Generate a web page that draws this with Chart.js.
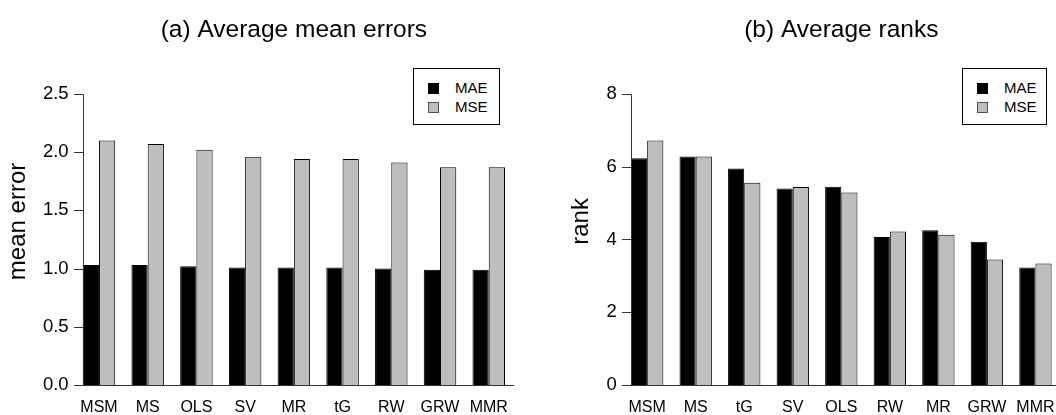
<head>
    <meta charset="UTF-8">
    <title>Average mean errors and ranks</title>
    <script src="https://cdn.jsdelivr.net/npm/chart.js@4.4.1/dist/chart.umd.min.js"></script>
    <style>
        body { margin: 0; width: 1056px; height: 415px; overflow: hidden; background: #fff; position: relative; font-family: "Liberation Sans", Arial, sans-serif; }
        .panel { position: absolute; top: 0; }
        .legend { position: absolute; top: 68px; height: 57px; border: 1px solid #000; box-sizing: border-box; background: #fff; }
        .legend div { position: absolute; font-size: 15px; line-height: 19px; }
        .legend span { position: absolute; width: 11px; height: 11px; box-sizing: border-box; border: 1px solid #000; }
    </style>
</head>
<body>
    <div class="panel" style="left:0"><canvas id="chartA" width="528" height="415"></canvas></div>
    <div class="panel" style="left:528px"><canvas id="chartB" width="540" height="415"></canvas></div>
    <div class="legend" id="legendA" style="left:413px;width:87px"></div>
    <div class="legend" id="legendB" style="left:962px;width:85px"></div>

    <script>
        // panel (a): average mean errors
        var methodsA = ['MSM', 'MS', 'OLS', 'SV', 'MR', 'tG', 'RW', 'GRW', 'MMR'];
        var maeA = [1.03, 1.03, 1.02, 1.01, 1.01, 1.01, 1.00, 0.99, 0.99];
        var mseA = [2.10, 2.07, 2.02, 1.96, 1.94, 1.94, 1.91, 1.87, 1.87];

        // panel (b): average ranks
        var methodsB = ['MSM', 'MS', 'tG', 'SV', 'OLS', 'RW', 'MR', 'GRW', 'MMR'];
        var maeB = [6.23, 6.28, 5.95, 5.40, 5.45, 4.07, 4.25, 3.94, 3.23];
        var mseB = [6.72, 6.28, 5.56, 5.44, 5.29, 4.22, 4.13, 3.45, 3.34];

        var seriesNames = ['MAE', 'MSE'];
        var seriesColors = ['#000000', '#bebebe'];
        var FONT = '"Liberation Sans", Arial, sans-serif';

        // R style y axis: line starts at the first bar, ticks point outwards,
        // axis title centred on the whole plot region (a bit above the bars)
        var rAxis = {
            id: 'rAxis',
            afterDraw: function (chart, args, opts) {
                var ctx = chart.ctx;
                var y = chart.scales.y;
                var area = chart.chartArea;
                var bar = chart.getDatasetMeta(0).data[0];
                var x = Math.round(bar.x - bar.width / 2) + 0.5;
                ctx.save();
                ctx.strokeStyle = '#333';
                ctx.lineWidth = 1;
                ctx.beginPath();
                ctx.moveTo(x, Math.round(y.getPixelForValue(y.max)) + 0.5);
                ctx.lineTo(x, Math.round(y.getPixelForValue(0)) + 0.5);
                y.ticks.forEach(function (t) {
                    var py = Math.round(y.getPixelForValue(t.value)) + 0.5;
                    ctx.moveTo(x - 9.5, py);
                    ctx.lineTo(x, py);
                });
                ctx.stroke();

                ctx.translate(opts.titleX, (area.top + area.bottom) / 2 - 18);
                ctx.rotate(-Math.PI / 2);
                ctx.fillStyle = '#000';
                ctx.font = '24px ' + FONT;
                ctx.textAlign = 'center';
                ctx.textBaseline = 'middle';
                ctx.fillText(opts.text, 0, 0);
                ctx.restore();
            }
        };

        function makeChart(id, title, labels, mae, mse, yTitle, yMax, step, decimals, yWidth, yTitleX, padRight) {
            return new Chart(document.getElementById(id), {
                type: 'bar',
                data: {
                    labels: labels,
                    datasets: [mae, mse].map(function (d, i) {
                        return {
                            label: seriesNames[i],
                            data: d,
                            backgroundColor: seriesColors[i],
                            borderColor: '#000',
                            borderWidth: 1,
                            categoryPercentage: 2 / 3,
                            barPercentage: 1
                        };
                    })
                },
                options: {
                    responsive: false,
                    animation: false,
                    layout: { padding: { left: 0, right: padRight, top: 0, bottom: 0 } },
                    plugins: {
                        legend: { display: false },
                        tooltip: { enabled: false },
                        title: {
                            display: true,
                            text: title,
                            fullSize: false,
                            color: '#000',
                            font: { family: FONT, size: 24.5, weight: 'normal' },
                            padding: { top: 16, bottom: 48.5 }
                        },
                        rAxis: { text: yTitle, titleX: yTitleX }
                    },
                    scales: {
                        x: {
                            offset: true,
                            grid: { display: false, drawTicks: false },
                            border: { display: true, color: '#333', width: 1 },
                            ticks: { color: '#000', padding: 13, font: { family: FONT, size: 16 }, autoSkip: false, maxRotation: 0 },
                            afterFit: function (s) { s.height = 30; }
                        },
                        y: {
                            min: 0,
                            max: yMax,
                            grid: { display: false, drawTicks: false },
                            border: { display: false },
                            ticks: {
                                stepSize: step,
                                color: '#000',
                                padding: 6,
                                font: { family: FONT, size: 18.5 },
                                callback: function (v) { return v.toFixed(decimals); }
                            },
                            afterFit: function (s) { s.width = yWidth; }
                        }
                    }
                },
                plugins: [rAxis]
            });
        }

        makeChart('chartA', '(a) Average mean errors', methodsA, maeA, mseA, 'mean error', 2.5, 0.5, 1, 74.6, 18.5, 14.9);
        makeChart('chartB', '(b) Average ranks', methodsB, maeB, mseB, 'rank', 8, 2, 0, 94.9, 53.5, 8);

        // boxed legends, built from the series names and colours
        ['legendA', 'legendB'].forEach(function (id) {
            var box = document.getElementById(id);
            seriesNames.forEach(function (name, i) {
                var sq = document.createElement('span');
                sq.style.left = '14px';
                sq.style.top = (14 + i * 19) + 'px';
                sq.style.background = seriesColors[i];
                sq.style.borderColor = i === 0 ? '#000' : '#555';
                var tx = document.createElement('div');
                tx.textContent = name;
                tx.style.left = '41px';
                tx.style.top = (9 + i * 19) + 'px';
                box.appendChild(sq);
                box.appendChild(tx);
            });
        });
    </script>
</body>
